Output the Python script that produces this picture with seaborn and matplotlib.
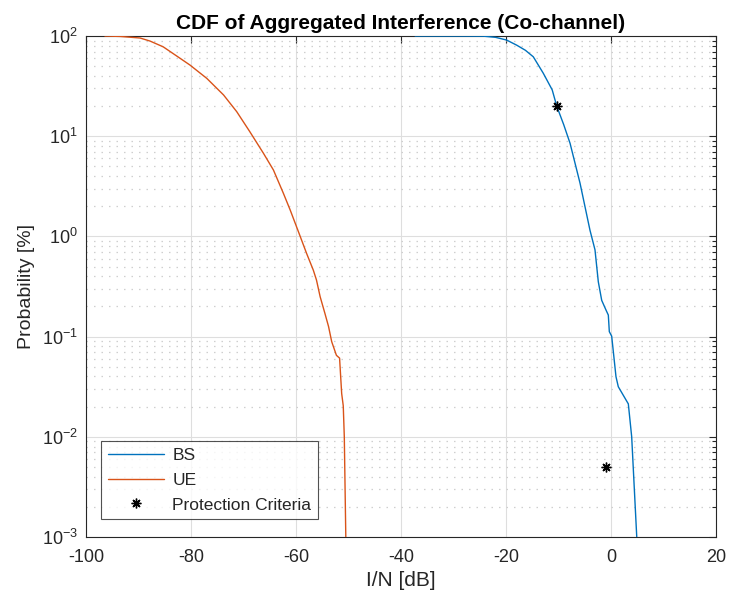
import matplotlib
matplotlib.use("Agg")
import matplotlib.pyplot as plt
import matplotlib.ticker as mticker
import seaborn as sns
import pandas as pd
import numpy as np

# ---- data ----
ue_x = [-96.4, -93.5, -89.7, -87.8, -85.3, -82.1, -80.2, -77.0, -73.8, -71.3,
        -68.8, -66.2, -64.3, -62.4, -61.1, -59.2, -58.0, -56.7, -56.1, -55.4,
        -54.5, -53.8, -53.2, -52.3, -51.7, -51.3, -51.0, -50.8, -50.5]
ue_y = [100, 99, 95.5, 89, 78, 60, 51.3, 37.8, 25.8, 17.6,
        11.1, 6.75, 4.6, 2.69, 1.83, 1.0, 0.68, 0.46, 0.367, 0.25,
        0.171, 0.126, 0.089, 0.065, 0.061, 0.027, 0.0204, 0.01, 0.0009]

bs_x = [-37.3, -28.0, -24.3, -22.0, -19.9, -17.96, -16.3, -14.8, -12.9, -11.2,
        -10.34, -9.0, -7.8, -5.9, -4.0, -3.05, -2.42, -1.77, -0.95, -0.51,
        -0.32, 0.13, 0.95, 1.39, 3.30, 3.94, 4.95]
bs_y = [100, 99.9, 99.6, 97, 91.2, 81, 72, 62, 42.5, 29,
        20, 13, 8.5, 3.4, 1.15, 0.735, 0.353, 0.23, 0.184, 0.164,
        0.112, 0.101, 0.0398, 0.0316, 0.0213, 0.0100, 0.0009]

crit_x = [-10.3, -1.0]
crit_y = [20, 0.005]

series_names = ["BS", "UE"]
crit_name = "Protection Criteria"
title = "CDF of Aggregated Interference (Co-channel)"
xlabel = "I/N [dB]"
ylabel = "Probability [%]"

# ---- style ----
sns.set_style("white")
plt.rcParams['font.family'] = ['Liberation Sans', 'DejaVu Sans']
plt.rcParams['mathtext.fontset'] = 'custom'
plt.rcParams['mathtext.rm'] = 'Liberation Sans'
plt.rcParams['axes.unicode_minus'] = False

fig = plt.figure(figsize=(7.29, 5.97), dpi=100)
ax = fig.add_axes([86/729, 1-537/597, (716-86)/729, (537-36)/597])

df_bs = pd.DataFrame({"x": bs_x, "y": bs_y})
df_ue = pd.DataFrame({"x": ue_x, "y": ue_y})
df_c = pd.DataFrame({"x": crit_x, "y": crit_y})

sns.lineplot(data=df_bs, x="x", y="y", ax=ax, color="#0072BD", lw=1.0,
             estimator=None, sort=False, label=series_names[0], zorder=3)
sns.lineplot(data=df_ue, x="x", y="y", ax=ax, color="#D95319", lw=1.0,
             estimator=None, sort=False, label=series_names[1], zorder=3)
ax.plot(df_c["x"], df_c["y"], linestyle="none", marker=(8, 2, 0),
        markersize=7, markeredgewidth=1.0, color="black", label=crit_name,
        zorder=4)

ax.set_yscale("log")
ax.set_xlim(-100, 20)
ax.set_ylim(1e-3, 1e2)
ax.set_xticks(np.arange(-100, 21, 20))
ax.yaxis.set_major_locator(mticker.LogLocator(base=10, numticks=10))
ax.yaxis.set_minor_locator(mticker.LogLocator(base=10, subs=np.arange(2, 10), numticks=20))
ax.yaxis.set_minor_formatter(mticker.NullFormatter())

ax.grid(True, which="major", color="#dedede", lw=0.8, ls="-")
ax.grid(True, which="minor", axis="y", color="#cfcfcf", lw=0.9, ls=(0, (1.2, 4.8)))
ax.set_axisbelow(True)

ax.tick_params(which="both", direction="in", top=True, right=True,
               labelsize=13, colors="#262626", labelcolor="#262626")
ax.tick_params(which="major", length=5, width=0.8)
ax.tick_params(which="minor", length=3, width=0.8)
ax.tick_params(axis="x", which="major", pad=9)
ax.tick_params(axis="y", which="major", pad=6)
for s in ax.spines.values():
    s.set_color("#262626")
    s.set_linewidth(0.8)

ax.set_xlabel(xlabel, fontsize=15, color="#262626", labelpad=3)
ax.set_ylabel(ylabel, fontsize=14, color="#262626", labelpad=5)
ax.set_title(title, fontsize=15, fontweight="bold", color="black", pad=5)

leg = ax.legend(loc="lower left", bbox_to_anchor=(0.024, 0.035), fontsize=12.5,
                frameon=True, fancybox=False, edgecolor="#262626",
                borderpad=0.4, handlelength=3.2, handletextpad=0.5,
                labelspacing=0.55, borderaxespad=0)
leg.get_frame().set_linewidth(0.8)

fig.savefig("out.png", dpi=100)
